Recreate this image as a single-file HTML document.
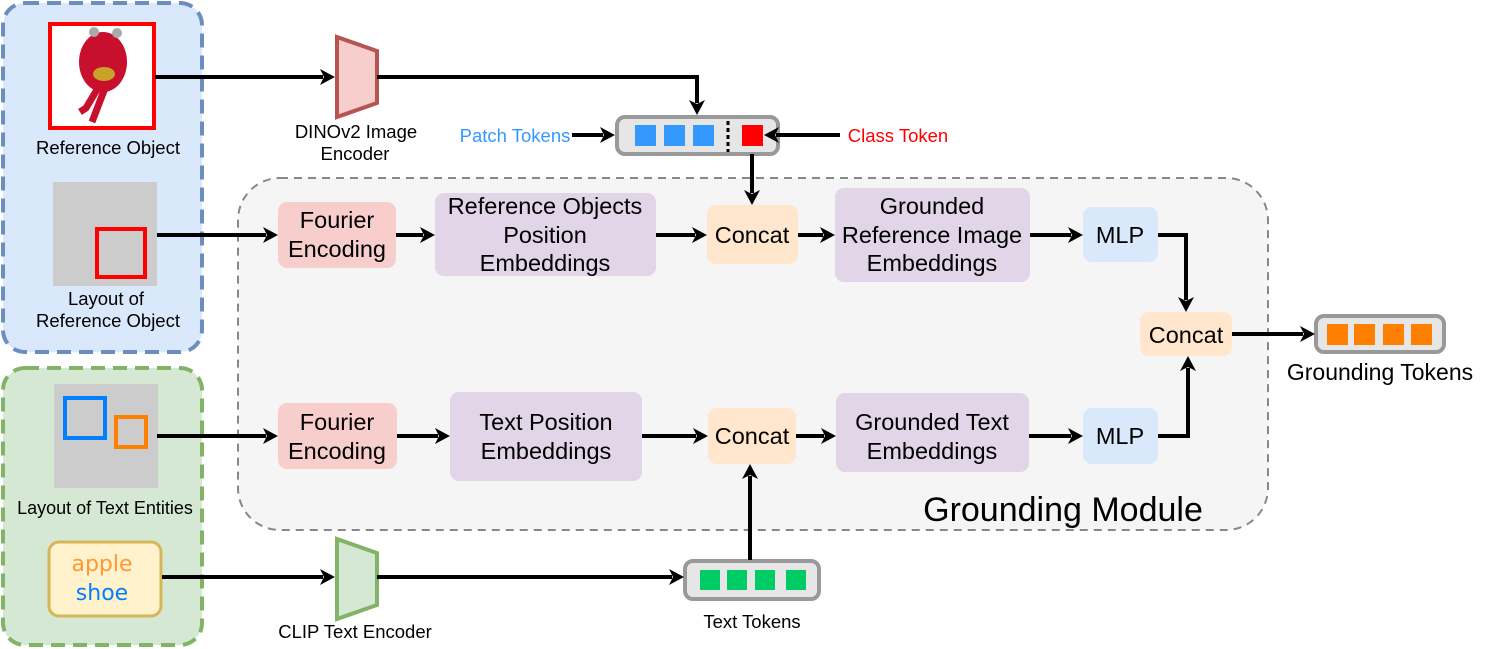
<!DOCTYPE html>
<html><head><meta charset="utf-8"><style>
html,body{margin:0;padding:0;background:#fff;}
svg{display:block;font-family:"Liberation Sans",Arial,sans-serif;}
</style></head><body>
<svg width="1495" height="649" viewBox="0 0 1495 649" xmlns="http://www.w3.org/2000/svg">
<!-- groups -->
<rect x="3" y="3" width="199" height="349" rx="22" fill="#dae8fc" stroke="#6c8ebf" stroke-width="4" stroke-dasharray="14,8"/>
<rect x="3" y="368" width="199" height="277" rx="22" fill="#d5e8d4" stroke="#82b366" stroke-width="4" stroke-dasharray="14,8"/>
<rect x="238" y="178" width="1030" height="352" rx="42" fill="#f5f5f5" stroke="#888" stroke-width="2" stroke-dasharray="8,6"/>

<!-- reference object -->
<rect x="50" y="24" width="104" height="104" fill="#fff" stroke="#f00" stroke-width="4"/>
<ellipse cx="103" cy="62" rx="24" ry="30" fill="#c8102e"/>
<circle cx="94" cy="32" r="5" fill="#aaa"/><circle cx="117" cy="33" r="5" fill="#aaa"/>
<ellipse cx="104" cy="74" rx="11" ry="7" fill="#c9a227"/>
<path d="M98 88 L86 108 L80 112 M105 88 L92 122" stroke="#c8102e" stroke-width="7" fill="none"/>
<text x="108" y="154" font-size="18.5" text-anchor="middle">Reference Object</text>

<rect x="53" y="182" width="104" height="104" fill="#ccc"/>
<rect x="97" y="229" width="48" height="48" fill="none" stroke="#f00" stroke-width="4"/>
<text x="106" y="305" font-size="18.5" text-anchor="middle">Layout of</text>
<text x="108" y="327" font-size="18.5" text-anchor="middle">Reference Object</text>

<rect x="54" y="384" width="104" height="104" fill="#ccc"/>
<rect x="65" y="398" width="40" height="40" fill="none" stroke="#007fff" stroke-width="4"/>
<rect x="116" y="417" width="30" height="30" fill="none" stroke="#ff8000" stroke-width="4"/>
<text x="105" y="514" font-size="18" text-anchor="middle">Layout of Text Entities</text>

<rect x="49" y="542" width="112" height="74" rx="10" fill="#fff2cc" stroke="#d6b656" stroke-width="3"/>
<text x="102" y="571" font-size="22" fill="#ff9933" text-anchor="middle" font-family="'DejaVu Sans',sans-serif">apple</text>
<text x="102" y="600" font-size="22" fill="#007fff" text-anchor="middle" font-family="'DejaVu Sans',sans-serif">shoe</text>

<!-- encoders -->
<polygon points="337,37 377,51 377,103 337,117" fill="#f8cecc" stroke="#b85450" stroke-width="4"/>
<text x="356" y="138" font-size="18.5" text-anchor="middle">DINOv2 Image</text>
<text x="355" y="160" font-size="18.5" text-anchor="middle">Encoder</text>
<polygon points="337,539 377,553 377,605 337,619" fill="#d5e8d4" stroke="#82b366" stroke-width="4"/>
<text x="355" y="638" font-size="18.5" text-anchor="middle">CLIP Text Encoder</text>

<!-- token bars -->
<rect x="617" y="117" width="161" height="37" rx="8" fill="#e6e6e6" stroke="#999" stroke-width="4"/>
<rect x="635" y="125" width="21" height="21" fill="#3399ff"/>
<rect x="664" y="125" width="21" height="21" fill="#3399ff"/>
<rect x="693" y="125" width="21" height="21" fill="#3399ff"/>
<line x1="728" y1="121" x2="728" y2="152" stroke="#000" stroke-width="3" stroke-dasharray="4,3"/>
<rect x="742" y="125" width="21" height="21" fill="#f00"/>
<text x="515" y="142" font-size="18.5" fill="#3399ff" text-anchor="middle">Patch Tokens</text>
<text x="898" y="142" font-size="18.5" fill="#f00" text-anchor="middle">Class Token</text>

<rect x="685" y="561" width="134" height="38" rx="8" fill="#e6e6e6" stroke="#999" stroke-width="4"/>
<rect x="700" y="570" width="20" height="20" fill="#00cc66"/>
<rect x="727" y="570" width="20" height="20" fill="#00cc66"/>
<rect x="755" y="570" width="20" height="20" fill="#00cc66"/>
<rect x="786" y="570" width="20" height="20" fill="#00cc66"/>
<text x="752" y="628" font-size="18.5" text-anchor="middle">Text Tokens</text>

<rect x="1316" y="316" width="128" height="36" rx="8" fill="#e6e6e6" stroke="#999" stroke-width="4"/>
<rect x="1327" y="324" width="21" height="21" fill="#ff8000"/>
<rect x="1354" y="324" width="21" height="21" fill="#ff8000"/>
<rect x="1383" y="324" width="21" height="21" fill="#ff8000"/>
<rect x="1411" y="324" width="21" height="21" fill="#ff8000"/>
<text x="1380" y="380" font-size="23" text-anchor="middle">Grounding Tokens</text>

<!-- nodes -->
<g font-size="23.5" text-anchor="middle">
<rect x="278" y="202" width="118" height="66" rx="9" fill="#f8cecc"/>
<text x="337" y="228">Fourier</text><text x="337" y="257">Encoding</text>
<rect x="435" y="193" width="221" height="83" rx="9" fill="#e1d5e7"/>
<text x="545" y="214">Reference Objects</text><text x="545" y="243">Position</text><text x="545" y="271">Embeddings</text>
<rect x="707" y="205" width="91" height="59" rx="9" fill="#ffe6cc"/>
<text x="752" y="243">Concat</text>
<rect x="835" y="188" width="195" height="94" rx="9" fill="#e1d5e7"/>
<text x="932" y="214">Grounded</text><text x="932" y="243">Reference Image</text><text x="932" y="271">Embeddings</text>
<rect x="1083" y="207" width="75" height="55" rx="9" fill="#dae8fc"/>
<text x="1120" y="243">MLP</text>
<rect x="1140" y="312" width="92" height="44" rx="9" fill="#ffe6cc"/>
<text x="1186" y="343">Concat</text>

<rect x="278" y="403" width="119" height="66" rx="9" fill="#f8cecc"/>
<text x="337" y="430">Fourier</text><text x="337" y="459">Encoding</text>
<rect x="450" y="392" width="192" height="89" rx="9" fill="#e1d5e7"/>
<text x="546" y="430">Text Position</text><text x="546" y="459">Embeddings</text>
<rect x="708" y="408" width="88" height="56" rx="9" fill="#ffe6cc"/>
<text x="752" y="444">Concat</text>
<rect x="836" y="393" width="193" height="79" rx="9" fill="#e1d5e7"/>
<text x="932" y="430">Grounded Text</text><text x="932" y="459">Embeddings</text>
<rect x="1083" y="408" width="75" height="56" rx="9" fill="#dae8fc"/>
<text x="1120" y="444">MLP</text>
</g>
<text x="1063" y="521" font-size="34" text-anchor="middle">Grounding Module</text>

<!-- connectors -->
<g stroke="#000" stroke-width="4" fill="none">
<path d="M155 77 H323"/>
<path d="M377 77 H697 V103"/>
<path d="M572 135 H603"/>
<path d="M840 135 H776"/>
<path d="M752 154 V193"/>
<path d="M157 235 H266"/>
<path d="M396 235 H423"/>
<path d="M656 235 H695"/>
<path d="M798 235 H823"/>
<path d="M1030 235 H1071"/>
<path d="M1158 235 H1186 V300"/>
<path d="M1232 334 H1303"/>
<path d="M157 436 H266"/>
<path d="M397 436 H438"/>
<path d="M642 436 H696"/>
<path d="M796 436 H824"/>
<path d="M1029 436 H1071"/>
<path d="M1158 436 H1188 V368"/>
<path d="M162 577 H323"/>
<path d="M377 577 H672"/>
<path d="M750 560 V476"/>
</g>
<g fill="#000">
<polygon points="335,77 320,69 324,77 320,85"/>
<polygon points="697,115 689,100 697,104 705,100"/>
<polygon points="615,135 600,127 604,135 600,143"/>
<polygon points="764,135 779,127 775,135 779,143"/>
<polygon points="752,205 744,190 752,194 760,190"/>
<polygon points="278,235 263,227 267,235 263,243"/>
<polygon points="435,235 420,227 424,235 420,243"/>
<polygon points="707,235 692,227 696,235 692,243"/>
<polygon points="835,235 820,227 824,235 820,243"/>
<polygon points="1083,235 1068,227 1072,235 1068,243"/>
<polygon points="1186,312 1178,297 1186,301 1194,297"/>
<polygon points="1315,334 1300,326 1304,334 1300,342"/>
<polygon points="278,436 263,428 267,436 263,444"/>
<polygon points="450,436 435,428 439,436 435,444"/>
<polygon points="708,436 693,428 697,436 693,444"/>
<polygon points="836,436 821,428 825,436 821,444"/>
<polygon points="1083,436 1068,428 1072,436 1068,444"/>
<polygon points="1188,356 1180,371 1188,367 1196,371"/>
<polygon points="335,577 320,569 324,577 320,585"/>
<polygon points="684,577 669,569 673,577 669,585"/>
<polygon points="750,464 742,479 750,475 758,479"/>
</g>
</svg>
</body></html>
